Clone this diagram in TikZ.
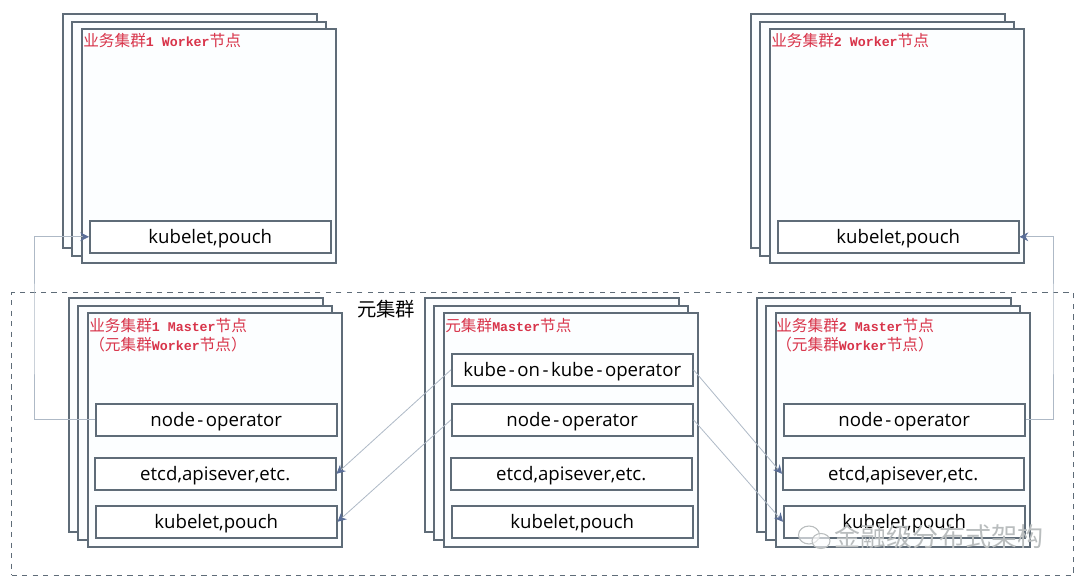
\documentclass[tikz,border=0pt]{standalone}
\usepackage{fontspec}
\setmainfont{Open Sans}
\newfontfamily\cjk{Noto Sans CJK SC}
\newfontfamily\labelmono[Scale=0.85]{Liberation Mono}
\usetikzlibrary{
  arrows.meta,
  shapes.geometric
}
\definecolor{edgegray}{HTML}{5F6C78}
\definecolor{sheetblue}{HTML}{FCFEFF}
\definecolor{linkgray}{HTML}{AEB9C6}
\definecolor{tipblue}{HTML}{5A6E98}
\definecolor{labelred}{HTML}{D8344A}
\definecolor{markgray}{HTML}{B9BDBE}
\tikzset{
  sheet/.style={draw=edgegray, fill=sheetblue, line width=0.9pt, anchor=north west,
    minimum width=5.08cm, minimum height=4.68cm, inner sep=0pt},
  part/.style={draw=edgegray, fill=white, line width=0.9pt, anchor=north west,
    minimum width=4.82cm, minimum height=0.64cm, inner sep=0pt, text height=8pt, text depth=0.3pt,
    font=\fontsize{10.6}{12}\selectfont},
  tag/.style={anchor=north west, inner sep=0pt, align=left, text=labelred,
    font=\fontsize{8.9}{10.8}\selectfont},
  link/.style={draw=linkgray, line width=0.45pt, -{Stealth[length=5pt,width=5pt,color=tipblue]}}
}
\newcommand{\sheets}[3]{%
  \node[sheet] (#1c) at (#2,#3) {};
  \node[sheet] (#1b) at (#2+9,#3+8) {};
  \node[sheet] (#1a) at (#2+19,#3+15) {};
}
\newcommand{\zh}[1]{{\cjk #1}}
\newcommand{\la}[1]{{\labelmono\bfseries #1}}
\newcommand{\hy}{\kern1.4pt-\kern1.4pt}

\begin{document}
\begin{tikzpicture}[x=0.02cm, y=-0.02cm]
  \useasboundingbox (0,0) rectangle (1080,584);
  \fill[white] (0,0) rectangle (1080,584);

  % outer frame
  \node[draw=edgegray, dashed, line width=0.6pt, anchor=north west, inner sep=0pt,
    minimum width=21.24cm, minimum height=5.66cm] (frame) at (11,292) {};
  \node[inner sep=0pt, font=\cjk\fontsize{11}{12}\selectfont] (frametag) at (386,309) {元集群};

  % worker stacks
  \sheets{wa}{62}{13}
  \sheets{wb}{750}{13}
  \node[tag] (watag) at (83,33) {\zh{业务集群}\la{1 Worker}\zh{节点}};
  \node[tag] (wbtag) at (771,33) {\zh{业务集群}\la{2 Worker}\zh{节点}};
  \node[part] (wakube) at (89,220) {kubelet,pouch};
  \node[part] (wbkube) at (777,220) {kubelet,pouch};

  % master stacks
  \sheets{ma}{68}{297}
  \sheets{mo}{424}{297}
  \sheets{mb}{756}{297}
  \node[tag] (matag) at (89,318) {\zh{业务集群}\la{1 Master}\zh{节点}\\\zh{（元集群}\la{Worker}\zh{节点）}};
  \node[tag] (motag) at (445,318) {\zh{元集群}\la{Master}\zh{节点}};
  \node[tag] (mbtag) at (776,318) {\zh{业务集群}\la{2 Master}\zh{节点}\\\zh{（元集群}\la{Worker}\zh{节点）}};

  \node[part] (maop) at (95,403) {node\hy operator};
  \node[part] (maetcd) at (94,457) {etcd,apisever,etc.};
  \node[part] (makube) at (95,505) {kubelet,pouch};

  \node[part] (mokoko) at (451,353) {kube\hy on\hy kube\hy operator};
  \node[part] (moop) at (451,403) {node\hy operator};
  \node[part] (moetcd) at (450,457) {etcd,apisever,etc.};
  \node[part] (mokube) at (451,505) {kubelet,pouch};

  \node[part] (mbop) at (783,403) {node\hy operator};
  \node[part] (mbetcd) at (782,457) {etcd,apisever,etc.};
  \node[part] (mbkube) at (783,505) {kubelet,pouch};

  % links
  \coordinate (railw) at (34,330);
  \coordinate (raile) at (1053,330);
  \draw[link] (maop.west) -| (railw) |- (wakube.west);
  \draw[link] (mbop.east) -| (raile) |- (wbkube.east);
  \draw[link] (mokoko.west) -- (maetcd.east);
  \draw[link] (moop.west) -- (makube.east);
  \draw[link] (mokoko.east) -- (mbetcd.west);
  \draw[link] (moop.east) -- (mbkube.west);

  % watermark
  \node[inner sep=0pt, text=markgray, font=\cjk\fontsize{14.8}{16}\selectfont] (mark) at (939,537) {金融级分布式架构};
  \node[draw=markgray, fill=white, fill opacity=0.6, ellipse, line width=0.6pt, minimum width=0.42cm, minimum height=0.36cm, inner sep=0pt] (bubblea) at (809,535) {};
  \node[draw=markgray, fill=white, fill opacity=0.6, ellipse, line width=0.6pt, minimum width=0.36cm, minimum height=0.3cm, inner sep=0pt] (bubbleb) at (821,541) {};
\end{tikzpicture}
\end{document}
